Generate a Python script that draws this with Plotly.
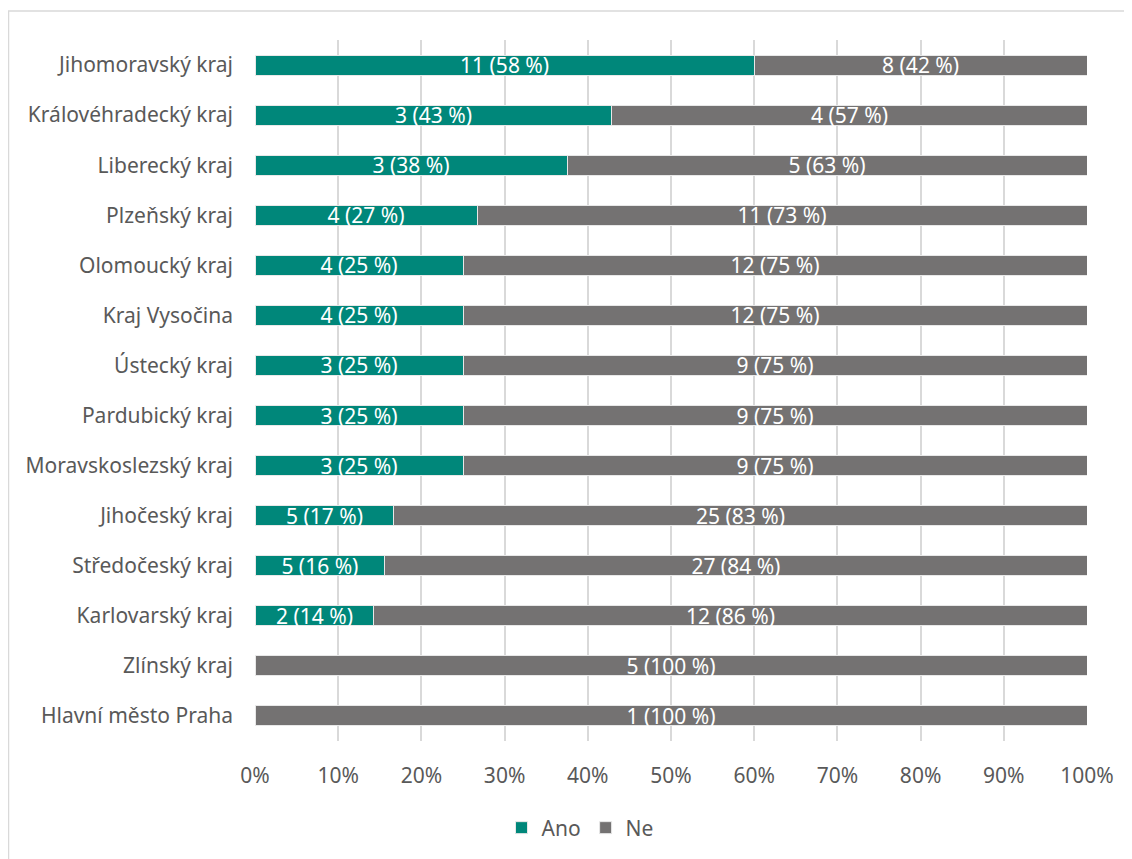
import plotly.graph_objects as go

regions = [
    "Jihomoravský kraj", "Královéhradecký kraj", "Liberecký kraj", "Plzeňský kraj",
    "Olomoucký kraj", "Kraj Vysočina", "Ústecký kraj", "Pardubický kraj",
    "Moravskoslezský kraj", "Jihočeský kraj", "Středočeský kraj", "Karlovarský kraj",
    "Zlínský kraj", "Hlavní město Praha",
]
# bar shares as drawn (percent)
ano_share = [60.0, 42.9, 37.5, 26.7, 25.0, 25.0, 25.0, 25.0, 25.0, 16.7, 15.6, 14.3, 0.0, 0.0]
ne_share = [40.0, 57.1, 62.5, 73.3, 75.0, 75.0, 75.0, 75.0, 75.0, 83.3, 84.4, 85.7, 100.0, 100.0]
# data labels as printed
ano_labels = ["11 (58 %)", "3 (43 %)", "3 (38 %)", "4 (27 %)", "4 (25 %)", "4 (25 %)", "3 (25 %)",
              "3 (25 %)", "3 (25 %)", "5 (17 %)", "5 (16 %)", "2 (14 %)", "", ""]
ne_labels = ["8 (42 %)", "4 (57 %)", "5 (63 %)", "11 (73 %)", "12 (75 %)", "12 (75 %)", "9 (75 %)",
             "9 (75 %)", "9 (75 %)", "25 (83 %)", "27 (84 %)", "12 (86 %)", "5 (100 %)", "1 (100 %)"]
x_ticks = [0, 10, 20, 30, 40, 50, 60, 70, 80, 90, 100]
x_tick_labels = [f"{v}%" for v in x_ticks]

FONT = "Noto Sans"
TXT = "#595959"
FS = 21

fig = go.Figure()
fig.add_trace(go.Bar(
    y=regions, x=ano_share, name="Ano", orientation="h",
    marker=dict(color="#00877A", line=dict(color="#E8E8E8", width=1)),
    text=ano_labels, textposition="inside", insidetextanchor="middle", textangle=0,
    textfont=dict(color="white", family=FONT, size=FS),
    hoverinfo="skip",
))
fig.add_trace(go.Bar(
    y=regions, x=ne_share, name="Ne", orientation="h",
    marker=dict(color="#747272", line=dict(color="#E8E8E8", width=1)),
    text=ne_labels, textposition="inside", insidetextanchor="middle", textangle=0,
    textfont=dict(color="white", family=FONT, size=FS),
    hoverinfo="skip",
))

# page has an 8px body offset; compensate
OFF = 8
W, H = 1132 - OFF, 859 - OFF
L, R, T, B = 255 - OFF, 45, 40 - OFF, 117
pw, ph = W - L - R, H - T - B

def px(x):
    return (x - OFF - L) / pw

def py(y):
    return (H - B - (y - OFF)) / ph

fig.update_layout(
    width=W, height=H,
    barmode="stack", bargap=0.6,
    margin=dict(l=L, r=R, t=T, b=B),
    paper_bgcolor="white", plot_bgcolor="white",
    font=dict(family=FONT, color=TXT, size=FS),
    uniformtext=dict(minsize=FS, mode="show"),
    xaxis=dict(range=[0, 100], tickvals=x_ticks, ticktext=x_tick_labels,
               showgrid=True, gridcolor="#D9D9D9", gridwidth=1.5, zeroline=False,
               showline=False, ticks="", tickfont=dict(size=FS, color=TXT, family=FONT),
               ticklabelstandoff=20, fixedrange=True),
    yaxis=dict(autorange="reversed", showgrid=False, showline=False, ticks="",
               ticklabelstandoff=21, tickfont=dict(size=FS, color=TXT, family=FONT),
               fixedrange=True),
    legend=dict(orientation="h", x=px(580), xanchor="center", y=py(828), yanchor="middle",
                font=dict(size=FS, color=TXT, family=FONT), traceorder="normal",
                itemwidth=30),
    showlegend=True,
    shapes=[
        dict(type="line", xref="paper", yref="paper", x0=px(8), x1=px(1145),
             y0=py(11), y1=py(11), line=dict(color="#D9D9D9", width=1.5)),
        dict(type="line", xref="paper", yref="paper", x0=px(8.5), x1=px(8.5),
             y0=py(11), y1=py(880), line=dict(color="#D9D9D9", width=1.5)),
    ],
)

fig.write_html("out.html")
